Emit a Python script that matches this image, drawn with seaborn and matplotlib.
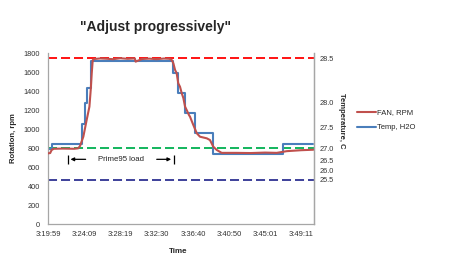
import numpy as np
import pandas as pd
import matplotlib
matplotlib.use("Agg")
import matplotlib.pyplot as plt
from matplotlib.lines import Line2D
import seaborn as sns

# ---------------- data ----------------
title = '"Adjust progressively"'
x_tick_labels = ["3:19:59", "3:24:09", "3:28:19", "3:32:30",
                 "3:36:40", "3:40:50", "3:45:01", "3:49:11"]
end_time = "3:50:39"

# FAN speed, rpm (time in seconds after 3:19:59)
fan_t = [0, 15, 25, 40, 100, 180, 209, 221, 244, 267, 286, 295, 302, 309,
         320, 360, 400, 450, 500, 550, 600, 605, 650, 700, 750, 800, 840,
         855, 866, 878, 889, 900, 912, 924, 935, 947, 958, 974, 981, 1004,
         1028, 1050, 1097, 1119, 1142, 1166, 1200, 1300, 1400, 1500, 1580,
         1650, 1750, 1833]
fan_rpm = [747, 750, 782, 795, 797, 795, 800, 824, 922, 1098, 1238, 1414,
           1589, 1729, 1740, 1746, 1743, 1738, 1748, 1742, 1746, 1712, 1740,
           1744, 1738, 1745, 1742, 1729, 1695, 1624, 1589, 1484, 1448, 1379,
           1330, 1238, 1203, 1150, 1133, 1045, 958, 922, 905, 887, 817, 782,
           752, 752, 750, 755, 752, 770, 780, 785]

# water temperature, C (step changes)
temp_t = [10, 30, 233, 256, 272, 295, 862, 900, 947, 1016, 1142, 1626, 1833]
temp_c = [26.98, 27.11, 27.57, 27.99, 28.16, 28.47, 28.33, 28.10, 27.79,
          27.37, 26.74, 27.09, 27.09]

# right-hand temperature scale and where each label sits on the rpm axis
temp_ticks = [25.5, 26.0, 26.5, 27.0, 27.5, 28.0, 28.5]
temp_tick_rpm = [470, 564, 672, 803, 1019, 1287, 1747]

rpm_ticks = [0, 200, 400, 600, 800, 1000, 1200, 1400, 1600, 1800]

limit_high_c = 28.5
target_c = 27.0
limit_low_c = 25.5

load_label = "Prime95 load"
load_start_s = 136
load_end_s = 870
load_text_s = 504
load_level_rpm = 684


def secs(label):
    h, m, s = map(int, label.split(":"))
    h0, m0, s0 = map(int, x_tick_labels[0].split(":"))
    return (h * 3600 + m * 60 + s) - (h0 * 3600 + m0 * 60 + s0)


def temp_to_rpm(t):
    return np.interp(t, temp_ticks, temp_tick_rpm)


# ---------------- style ----------------
sns.set_theme(style="white")
plt.rcParams["font.family"] = ["Liberation Sans", "DejaVu Sans"]

fan_color = "#C0504D"
temp_color = "#4A7EBB"
spine_color = "#A6A6A6"

fig = plt.figure(figsize=(4.5, 2.76), dpi=100)
ax = fig.add_axes([0.1067, 0.1873, 0.5918, 0.6196])

fan_df = pd.DataFrame({"t": fan_t, "rpm": fan_rpm})
temp_df = pd.DataFrame({"t": temp_t, "pos": temp_to_rpm(np.array(temp_c))})

dash = (5, 2.2)
ax.axhline(temp_to_rpm(limit_high_c), color="#FF0000", lw=1.3, dashes=dash, zorder=1)
ax.axhline(temp_to_rpm(target_c), color="#00B050", lw=1.3, dashes=dash, zorder=1)
ax.axhline(temp_to_rpm(limit_low_c), color="#2E3192", lw=1.3, dashes=dash, zorder=1)

sns.lineplot(data=temp_df, x="t", y="pos", ax=ax, color=temp_color, lw=1.5,
             drawstyle="steps-post", estimator=None, legend=False, zorder=2)
sns.lineplot(data=fan_df, x="t", y="rpm", ax=ax, color=fan_color, lw=1.5,
             estimator=None, legend=False, zorder=3)

ax.set_xlim(0, secs(end_time))
ax.set_ylim(rpm_ticks[0], rpm_ticks[-1])
ax.set_xticks([secs(l) for l in x_tick_labels])
ax.set_xticklabels(x_tick_labels)
ax.set_yticks(rpm_ticks)
ax.tick_params(axis="x", length=0, pad=5, labelsize=5.5, colors="#333333")
ax.tick_params(axis="y", length=0, pad=5.8, labelsize=5.3, colors="#333333")

for side in ["left", "bottom", "right"]:
    ax.spines[side].set_color(spine_color)
    ax.spines[side].set_linewidth(0.9)
ax.spines["top"].set_visible(False)

ax.set_xlabel("Time", fontsize=5.8, fontweight="bold")
ax.xaxis.set_label_coords(0.487, -0.139)
ax.xaxis.label.set_verticalalignment("top")
ax.set_ylabel("Rotation, rpm", fontsize=5.5, fontweight="bold",
              rotation_mode="default", ha="center", va="center")
ax.yaxis.set_label_coords(-0.130, 0.505)

# right axis with temperature labels
ax2 = ax.twinx()
ax2.set_ylim(ax.get_ylim())
ax2.set_yticks(temp_to_rpm(np.array(temp_ticks)))
ax2.set_yticklabels([f"{t:.1f}" for t in temp_ticks])
ax2.tick_params(axis="y", length=0, pad=3.6, labelsize=5.3, colors="#333333")
for side in ["left", "bottom", "top"]:
    ax2.spines[side].set_visible(False)
ax2.spines["right"].set_color(spine_color)
ax2.spines["right"].set_linewidth(0.9)
ax2.set_ylabel("Temperature, C", fontsize=5.5, fontweight="bold",
               rotation=270, rotation_mode="default", ha="center", va="center")
ax2.yaxis.set_label_coords(1.103, 0.604)

# Prime95 load annotation
bar_half = 50
arrow_kw = dict(arrowstyle="-|>", color="black", lw=0.9, mutation_scale=5)
ax.annotate("", xy=(load_start_s, load_level_rpm),
            xytext=(load_start_s + 143, load_level_rpm), arrowprops=arrow_kw)
ax.annotate("", xy=(load_end_s, load_level_rpm),
            xytext=(load_end_s - 138, load_level_rpm), arrowprops=arrow_kw)
ax.vlines([load_start_s, load_end_s], load_level_rpm - bar_half,
          load_level_rpm + bar_half, color="black", lw=0.9)
ax.text(load_text_s, load_level_rpm, load_label, fontsize=5.6,
        ha="center", va="center", color="#222222")

fig.text(0.3456, 0.903, title, fontsize=10, fontweight="bold",
         ha="center", va="center")

handles = [Line2D([], [], color=fan_color, lw=1.5),
           Line2D([], [], color=temp_color, lw=1.5)]
fig.legend(handles, ["FAN, RPM", "Temp, H2O"], loc="center left",
           bbox_to_anchor=(0.793, 0.5645), frameon=False, fontsize=5.5,
           handlelength=2.45, handletextpad=0.2, labelspacing=1.0,
           borderpad=0, borderaxespad=0)

fig.savefig("out.png", dpi=100)
